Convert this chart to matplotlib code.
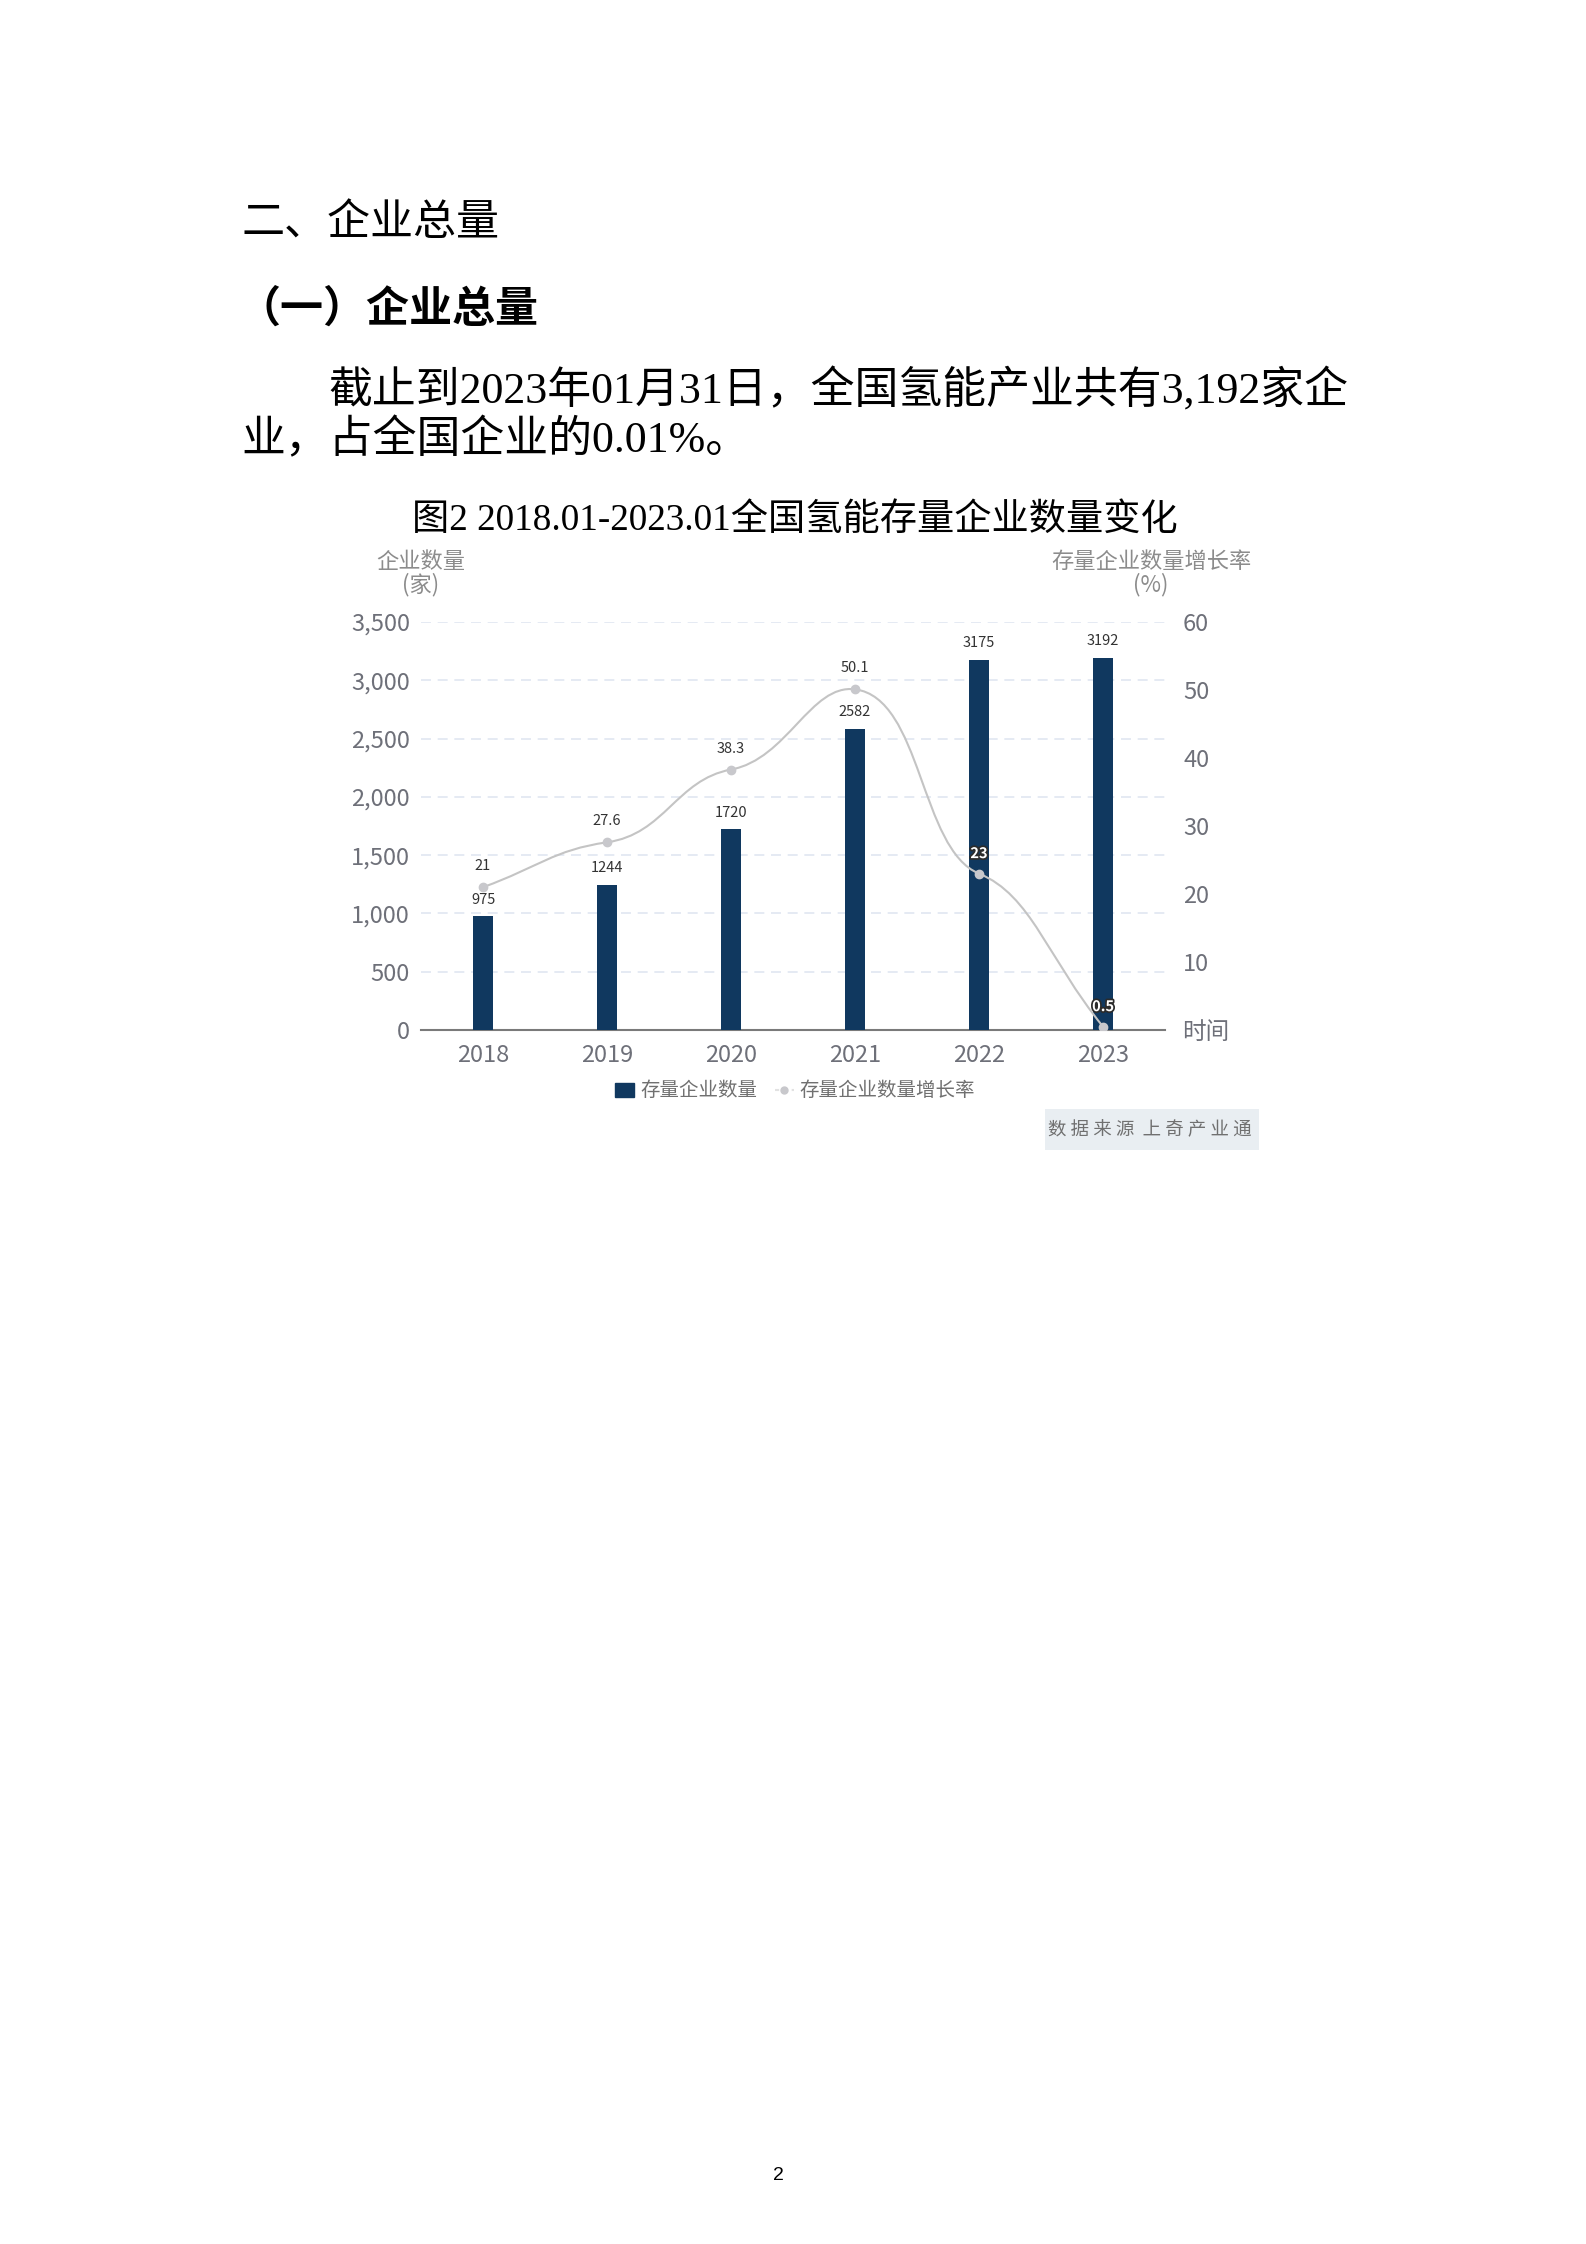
import numpy as np
import matplotlib
matplotlib.use("Agg")
import matplotlib.pyplot as plt
from matplotlib.path import Path
from matplotlib.patches import PathPatch, Patch, FancyBboxPatch
from matplotlib.lines import Line2D
from matplotlib.ticker import FuncFormatter
import matplotlib.patheffects as pe

plt.rcParams['font.family'] = ['Noto Sans CJK SC', 'DejaVu Sans']

# data
years = ["2018", "2019", "2020", "2021", "2022", "2023"]
companies = [975, 1244, 1720, 2582, 3175, 3192]
growth = [21, 27.6, 38.3, 50.1, 23, 0.5]
growth_labels = ["21", "27.6", "38.3", "50.1", "23", "0.5"]
left_ticks = [0, 500, 1000, 1500, 2000, 2500, 3000, 3500]
right_ticks = [10, 20, 30, 40, 50, 60]

navy = "#10385f"
tick_gray = "#6e7079"
line_gray = "#c4c4c4"
doc_font = ['Liberation Serif', 'Noto Sans CJK SC']

fig = plt.figure(figsize=(15.86, 22.44), dpi=100)

# document text
fig.text(0.152, 1 - 223 / 2244, "二、企业总量", fontsize=31, va='center', ha='left')
fig.text(0.150, 1 - 309 / 2244, "（一）企业总量", fontsize=31, fontweight='bold', va='center', ha='left')
fig.text(328 / 1586, 1 - 391 / 2244, "截止到2023年01月31日，全国氢能产业共有3,192家企",
         fontsize=31.6, va='center', ha='left', family=doc_font)
fig.text(0.152, 1 - 440 / 2244, "业，占全国企业的0.01%。",
         fontsize=31.6, va='center', ha='left', family=doc_font)
fig.text(795 / 1586, 1 - 520 / 2244, "图2 2018.01-2023.01全国氢能存量企业数量变化",
         fontsize=26.8, va='center', ha='center', family=doc_font)

# chart
ax = fig.add_axes([421 / 1586, 1 - 1030 / 2244, 744 / 1586, 408 / 2244])
x = np.arange(len(years))
ax.bar(x, companies, width=0.16, color=navy, zorder=3)
ax.set_xlim(-0.5, len(years) - 0.5)
ax.set_ylim(0, 3500)
ax.set_yticks(left_ticks)
ax.yaxis.set_major_formatter(FuncFormatter(lambda v, p: f"{int(v):,}"))
ax.set_xticks(x)
ax.set_xticklabels(years)
for s in ["top", "right", "left"]:
    ax.spines[s].set_visible(False)
ax.spines["bottom"].set_color("#7a7a7a")
ax.spines["bottom"].set_linewidth(1.5)
ax.tick_params(axis='y', length=0, pad=8, labelsize=17, labelcolor=tick_gray)
ax.tick_params(axis='x', length=0, pad=10, labelsize=17, labelcolor=tick_gray)
ax.grid(axis='y', color="#e0e6f1", linestyle=(0, (6, 4)), linewidth=1.2, zorder=0)
ax.set_axisbelow(True)
for xi, v in zip(x, companies):
    ax.annotate(str(v), (xi, v), xytext=(0, 7), textcoords='offset points',
                ha='center', va='bottom', fontsize=10.5, color="#333333")

ax2 = ax.twinx()
ax2.set_ylim(0, 60)
ax2.set_yticks(right_ticks)
for s in ax2.spines.values():
    s.set_visible(False)
ax2.tick_params(axis='y', length=0, pad=13, labelsize=17, labelcolor=tick_gray)

# smoothed line: bezier through the data points, tangents kept fairly flat
pts = ax2.transData.transform(np.column_stack([x, growth]))
smooth = 0.45
flat = 0.3
n = len(pts)
cps_in, cps_out = [], []
for i in range(n):
    cur = pts[i]
    prev = pts[i - 1] if i > 0 else cur
    nxt = pts[i + 1] if i < n - 1 else cur
    v = nxt - prev
    if 0 < i < n - 1:
        v = np.array([v[0], v[1] * flat])
    d0 = np.hypot(*(cur - prev))
    d1 = np.hypot(*(nxt - cur))
    r = d1 / (d0 + d1) if d0 + d1 > 0 else 0.5
    cin = cur - v * smooth * (1 - r)
    cout = cur + v * smooth * r
    cps_in.append(cin)
    cps_out.append(cout)
verts = [pts[0]]
codes = [Path.MOVETO]
for i in range(n - 1):
    verts += [cps_out[i], cps_in[i + 1], pts[i + 1]]
    codes += [Path.CURVE4] * 3
verts = ax2.transData.inverted().transform(np.array(verts))
ax2.add_patch(PathPatch(Path(verts, codes), facecolor='none', edgecolor=line_gray, linewidth=1.5, zorder=4))
ax2.plot(x, growth, linestyle='none', marker='o', markersize=6, color="#c8c8cc", zorder=5)
for i, (xi, v, lab) in enumerate(zip(x, growth, growth_labels)):
    if i >= 4:
        ax2.annotate(lab, (xi, v), xytext=(0, 9), textcoords='offset points', ha='center', va='bottom',
                     fontsize=10.5, color='white', fontweight='bold',
                     path_effects=[pe.withStroke(linewidth=2.5, foreground="#2b2b2b")])
    else:
        ax2.annotate(lab, (xi, v), xytext=(0, 10), textcoords='offset points', ha='center', va='bottom',
                     fontsize=10.5, color="#333333")

# axis names
fig.text(421 / 1586, 1 - 562 / 2244, "企业数量", fontsize=16, color="#8c8c8c", ha='center', va='center')
fig.text(421 / 1586, 1 - 585 / 2244, "(家)", fontsize=16, color="#8c8c8c", ha='center', va='center')
fig.text(1151 / 1586, 1 - 562 / 2244, "存量企业数量增长率", fontsize=16, color="#8c8c8c", ha='center', va='center')
fig.text(1151 / 1586, 1 - 585 / 2244, "(%)", fontsize=16, color="#8c8c8c", ha='center', va='center')
fig.text(1182 / 1586, 1 - 1032 / 2244, "时间", fontsize=17, color=tick_gray, ha='left', va='center')

# legend
handles = [Patch(facecolor=navy, edgecolor=navy),
           Line2D([0], [0], color="#e2e2e2", linestyle=(0, (2, 2)), marker='o', markersize=5,
                  markerfacecolor="#c8c8cc", markeredgecolor="#c8c8cc")]
fig.legend(handles, ["存量企业数量", "存量企业数量增长率"], loc='center', bbox_to_anchor=(795 / 1586, 1 - 1091 / 2244),
           ncol=2, frameon=False, fontsize=14, labelcolor="#707070", handlelength=1.0, handleheight=0.7,
           handletextpad=0.3, columnspacing=0.9)

# source box
fig.patches.append(FancyBboxPatch((1045 / 1586, 1 - 1150 / 2244), 214 / 1586, 41 / 2244,
                                  boxstyle='square,pad=0', transform=fig.transFigure,
                                  facecolor="#e9eef2", edgecolor='none'))
fig.text(1150 / 1586, 1 - 1130 / 2244, "数 据 来 源  上 奇 产 业 通", fontsize=13.3, color="#707070",
         ha='center', va='center')

# page number
fig.text(778 / 1586, 1 - 2175 / 2244, "2", fontsize=14, ha='center', va='center', family='Liberation Sans')

fig.savefig("out.png", dpi=100, facecolor='white')
